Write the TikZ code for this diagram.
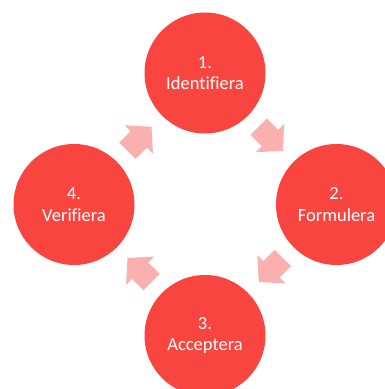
\documentclass[tikz,border=0pt]{standalone}
\usepackage{fontspec}
\setmainfont[Ligatures=NoCommon]{Carlito}
\usetikzlibrary{calc}
\definecolor{circred}{RGB}{249,69,64}
\definecolor{arrowpink}{RGB}{249,176,174}
\tikzset{
  stepcircle/.style={circle, fill=circred, draw=none, minimum size=121pt, inner sep=0pt,
    text=white, align=center, font=\fontsize{18.5}{21.6}\selectfont},
  blockarrow/.pic={
    \fill[arrowpink] (-17,-11.5) -- (-1,-11.5) -- (-1,-20) -- (17,0) -- (-1,20) -- (-1,11.5) -- (-17,11.5) -- cycle;
  }
}
\begin{document}
\begin{tikzpicture}[x=1pt,y=1pt]
\useasboundingbox (0,0) rectangle (384,389);
\node[stepcircle] (t) at (205,316) {1.\\Identifiera};
\node[stepcircle] (r) at (336.5,184.5) {2.\\Formulera};
\node[stepcircle] (b) at (205,53.5) {3.\\Acceptera};
\node[stepcircle] (l) at (74,184.5) {4.\\Verifiera};
\path ($(t)!0.5!(r)$) pic[rotate=-45] {blockarrow};
\path ($(r)!0.5!(b)$) pic[rotate=-135] {blockarrow};
\path ($(b)!0.5!(l)$) pic[rotate=135] {blockarrow};
\path ($(l)!0.5!(t)$) pic[rotate=45] {blockarrow};
\end{tikzpicture}
\end{document}
